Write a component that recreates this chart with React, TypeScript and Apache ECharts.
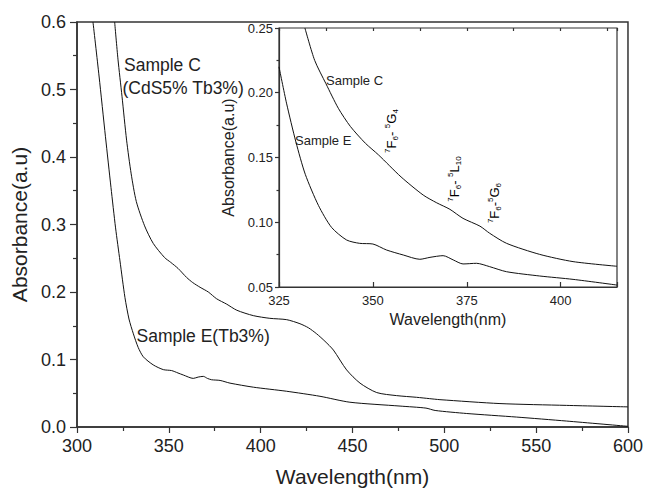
import React, { useEffect, useRef } from "react";
import * as echarts from "echarts";

// Main plot data: [wavelength nm, absorbance]
const sampleCMain: [number, number][] = [
  [320.5, 0.6], [322.3, 0.545], [324.5, 0.49], [327, 0.425], [329.5, 0.375], [332.3, 0.334],
  [336.8, 0.298], [341.5, 0.272], [347.7, 0.251], [351, 0.244], [355, 0.235], [359.7, 0.2215],
  [363, 0.214], [367, 0.207], [371.5, 0.2], [376, 0.19], [381.5, 0.182], [387, 0.173],
  [396, 0.165], [405, 0.161], [414.2, 0.159], [421.4, 0.153], [426, 0.147], [430.5, 0.138],
  [435, 0.127], [439.6, 0.114], [446.8, 0.0846], [454.1, 0.065], [463.2, 0.051], [474, 0.0465],
  [484.9, 0.044], [492, 0.042], [497.6, 0.0405], [530.3, 0.0347], [566.6, 0.032], [600, 0.0298],
];
const sampleEMain: [number, number][] = [
  [308.7, 0.6], [312, 0.52], [315.5, 0.43], [318.5, 0.355], [321, 0.295], [323.4, 0.246],
  [326.1, 0.192], [328.3, 0.16], [330.7, 0.138], [333.3, 0.118], [336.1, 0.104], [341.5, 0.092],
  [347, 0.085], [351.5, 0.0836], [355, 0.08], [357.9, 0.077], [363.3, 0.072], [366, 0.074],
  [368.8, 0.075], [371, 0.072], [373.3, 0.07], [377.9, 0.069], [383.3, 0.065], [396, 0.059],
  [414, 0.053], [432.3, 0.0455], [448.6, 0.0367], [475.9, 0.031], [490, 0.028], [495, 0.0245],
  [512.2, 0.02], [539.4, 0.0147], [566.6, 0.0088], [600, 0.001],
];
// Inset data
const sampleCInset: [number, number][] = [
  [331.9, 0.25], [334.5, 0.225], [337.5, 0.207], [340.8, 0.188], [344, 0.174], [348, 0.161],
  [351.5, 0.152], [357.5, 0.135], [363.4, 0.121], [367, 0.115], [370.5, 0.11], [374, 0.103],
  [378.5, 0.097], [381.1, 0.0915], [385.6, 0.0837], [394.4, 0.0752], [403.3, 0.0696], [415, 0.066],
];
const sampleEInset: [number, number][] = [
  [325, 0.22], [327, 0.192], [329.5, 0.162], [332, 0.137], [335.5, 0.113], [339, 0.096],
  [343, 0.0863], [346.5, 0.0837], [350, 0.0832], [353.6, 0.0786], [358.1, 0.0747], [362.5, 0.0714],
  [365.2, 0.0729], [368.7, 0.0742], [371.4, 0.0709], [374, 0.0678], [377.6, 0.0683], [381.1, 0.0657],
  [385.6, 0.0618], [394.4, 0.0585], [403.3, 0.0559], [415, 0.0515],
];

const mainLabels = { sampleC: "Sample C", sampleCSub: "(CdS5% Tb3%)", sampleE: "Sample E(Tb3%)" };
const insetLabels = { sampleC: "Sample C", sampleE: "Sample E" };
const transitions = [
  "{sup|7}{b|F}{sub|6}{b|- }{sup|5}{b|G}{sub|4}",
  "{sup|7}{b|F}{sub|6}{b|- }{sup|5}{b|L}{sub|10}",
  "{sup|7}{b|F}{sub|6}{b|-}{sup|5}{b|G}{sub|6}",
];

const FONT = "'Liberation Sans', Arial, Helvetica, sans-serif";
const AX = "#333";
const LINE = "#111";

export default function App() {
  const ref = useRef<HTMLDivElement>(null);
  useEffect(() => {
    if (!ref.current) return;
    const chart = echarts.init(ref.current, undefined, { renderer: "svg" });
    const axisLine = { show: true, lineStyle: { color: AX, width: 1.5 } };
    const tickStyle = { color: AX, width: 1.2 };
    const richT = {
      b: { fontSize: 13, fontFamily: FONT, color: "#222", lineHeight: 16, verticalAlign: "middle" },
      sup: { fontSize: 8, fontFamily: FONT, color: "#222", lineHeight: 8, verticalAlign: "top" },
      sub: { fontSize: 8, fontFamily: FONT, color: "#222", lineHeight: 8, verticalAlign: "bottom" },
    };
    const lineSeries = (data: [number, number][], xi: number, yi: number) => ({
      type: "line",
      data,
      xAxisIndex: xi,
      yAxisIndex: yi,
      showSymbol: false,
      smooth: 0.25,
      silent: true,
      lineStyle: { color: LINE, width: 1 },
      emphasis: { disabled: true },
    });
    chart.setOption({
      animation: false,
      backgroundColor: "#fff",
      textStyle: { fontFamily: FONT },
      grid: [
        { left: 77, top: 22, width: 551, height: 409, show: true, borderColor: AX, borderWidth: 1.5 },
        { left: 279, top: 28, width: 338, height: 259, show: true, borderColor: AX, borderWidth: 1.2 },
      ],
      xAxis: [
        {
          gridIndex: 0, type: "value", min: 300, max: 600, interval: 50,
          axisLine, splitLine: { show: false },
          axisTick: { length: 6, lineStyle: tickStyle },
          minorTick: { show: true, splitNumber: 2, length: 4, lineStyle: tickStyle },
          axisLabel: { fontSize: 18, margin: 10, color: "#222", fontFamily: FONT },
          name: "Wavelength(nm)", nameLocation: "middle", nameGap: 39,
          nameTextStyle: { fontSize: 21, color: "#222", fontFamily: FONT },
        },
        {
          gridIndex: 1, type: "value", min: 325, max: 415, interval: 25,
          axisLine: { show: true, lineStyle: { color: AX, width: 1.2 } }, splitLine: { show: false },
          axisTick: { inside: true, length: 5, lineStyle: tickStyle },
          axisLabel: {
            fontSize: 13, margin: 7, color: "#222", fontFamily: FONT,
            formatter: (v: number) => (v % 25 === 0 ? String(v) : ""),
          },
          name: "Wavelength(nm)", nameLocation: "middle", nameGap: 23,
          nameTextStyle: { fontSize: 16, color: "#222", fontFamily: FONT },
        },
        {
          gridIndex: 1, type: "value", min: 325, max: 415, interval: 12.5,
          axisLine: { show: false }, splitLine: { show: false },
          axisTick: { inside: true, length: 3, lineStyle: tickStyle },
          axisLabel: { show: false },
        },
      ],
      yAxis: [
        {
          gridIndex: 0, type: "value", min: 0, max: 0.6, interval: 0.1,
          axisLine, splitLine: { show: false },
          axisTick: { length: 7, lineStyle: tickStyle },
          minorTick: { show: true, splitNumber: 2, length: 4, lineStyle: tickStyle },
          axisLabel: {
            fontSize: 18, margin: 11, color: "#222", fontFamily: FONT,
            formatter: (v: number) => v.toFixed(1),
          },
          name: "Absorbance(a.u)", nameLocation: "middle", nameGap: 41,
          nameTextStyle: { fontSize: 21, color: "#222", fontFamily: FONT },
        },
        {
          gridIndex: 1, type: "value", min: 0.05, max: 0.25, interval: 0.05,
          axisLine: { show: true, lineStyle: { color: AX, width: 1.2 } }, splitLine: { show: false },
          axisTick: { length: 4, lineStyle: tickStyle },
          minorTick: { show: true, splitNumber: 2, length: 2.5, lineStyle: tickStyle },
          axisLabel: {
            fontSize: 13, margin: 6, color: "#222", fontFamily: FONT,
            formatter: (v: number) => v.toFixed(2),
          },
          name: "Absorbance(a.u)", nameLocation: "middle", nameGap: 25,
          nameTextStyle: { fontSize: 16, color: "#222", fontFamily: FONT },
        },
      ],
      series: [
        lineSeries(sampleCMain, 0, 0),
        lineSeries(sampleEMain, 0, 0),
        lineSeries(sampleCInset, 1, 1),
        lineSeries(sampleEInset, 1, 1),
      ],
      graphic: [
        { type: "text", x: 124, y: 65, silent: true, style: { text: mainLabels.sampleC, font: `17.5px ${FONT}`, fill: "#222", verticalAlign: "middle" } },
        { type: "text", x: 122.5, y: 87.5, silent: true, style: { text: mainLabels.sampleCSub, font: `17.5px ${FONT}`, fill: "#222", verticalAlign: "middle" } },
        { type: "text", x: 136.5, y: 336, silent: true, style: { text: mainLabels.sampleE, font: `17.5px ${FONT}`, fill: "#222", verticalAlign: "middle" } },
        { type: "text", x: 326, y: 80, silent: true, style: { text: insetLabels.sampleC, font: `13px ${FONT}`, fill: "#222", verticalAlign: "middle" } },
        { type: "text", x: 295, y: 140.5, silent: true, style: { text: insetLabels.sampleE, font: `13px ${FONT}`, fill: "#222", verticalAlign: "middle" } },
        { type: "text", x: 391, y: 131, rotation: Math.PI / 2, silent: true, style: { text: transitions[0], rich: richT, align: "center", verticalAlign: "middle" } },
        { type: "text", x: 454, y: 179, rotation: Math.PI / 2, silent: true, style: { text: transitions[1], rich: richT, align: "center", verticalAlign: "middle" } },
        { type: "text", x: 494, y: 203, rotation: Math.PI / 2, silent: true, style: { text: transitions[2], rich: richT, align: "center", verticalAlign: "middle" } },
      ],
    });
    return () => chart.dispose();
  }, []);
  return <div ref={ref} style={{ position: "fixed", left: 0, top: 0, width: 646, height: 492 }} />;
}
